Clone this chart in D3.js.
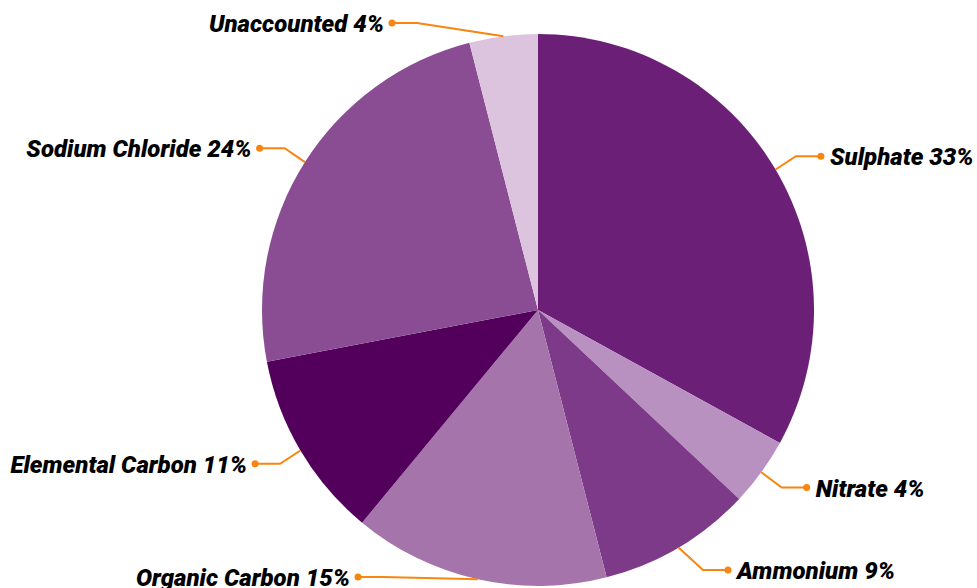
<!DOCTYPE html>
<html>
<head>
<meta charset="utf-8">
<script src="https://cdn.jsdelivr.net/npm/d3@7"></script>
<style>
  html, body { margin: 0; padding: 0; background: #ffffff; }
  svg { display: block; }
  .lbl { font-family: Roboto, "Liberation Sans", sans-serif; font-weight: 900; font-style: italic; font-size: 24px; fill: #000; }
</style>
</head>
<body>
<svg id="chart" width="977" height="588"></svg>
<script>
// PM composition (percent of total mass)
const categories = ["Sulphate", "Nitrate", "Ammonium", "Organic Carbon", "Elemental Carbon", "Sodium Chloride", "Unaccounted"];
const shares = [33, 4, 9, 15, 11, 24, 4];
const sliceColors = ["#6b1f77", "#b991c1", "#7d3a88", "#a574aa", "#53005d", "#8a4d93", "#dcc4de"];

const W = 977, H = 588;
const cx = 538, cy = 310, radius = 276;
const labelRadius = 322;   // dots sit on this circle
const placeRadius = 302;   // radial distance used to place label rows
const yMin = 23, yMax = 577;
const connector = "#f7850f";

const svg = d3.select("#chart");
const g = svg.append("g").attr("transform", `translate(${cx},${cy})`);

const data = categories.map((c, i) => ({ name: c, value: shares[i], color: sliceColors[i] }));

const pie = d3.pie().value(d => d.value).sort(null);
const arcs = pie(data);
const arc = d3.arc().innerRadius(0).outerRadius(radius);

g.selectAll("path.slice")
  .data(arcs)
  .join("path")
  .attr("class", "slice")
  .attr("d", arc)
  .attr("fill", d => d.data.color);

// Labels with crooked connectors
arcs.forEach(a => {
  const mid = (a.startAngle + a.endAngle) / 2;
  const s = Math.sin(mid), c = Math.cos(mid);
  const edge = [radius * s, -radius * c];
  let y = -placeRadius * c;
  y = Math.max(yMin - cy, Math.min(yMax - cy, y));
  const right = s >= 0;
  const dx = Math.sqrt(Math.max(0, labelRadius * labelRadius - y * y));
  const dotX = right ? dx : -dx;
  const elbowX = right ? dotX - 25 : dotX + 25;

  g.append("path")
    .attr("d", d3.line()([[dotX, y], [elbowX, y], edge]))
    .attr("fill", "none")
    .attr("stroke", connector)
    .attr("stroke-width", 2);

  g.append("circle")
    .attr("cx", dotX).attr("cy", y).attr("r", 3.5)
    .attr("fill", connector);

  g.append("text")
    .attr("class", "lbl")
    .attr("x", right ? dotX + 9 : dotX - 8)
    .attr("y", y + 9)
    .attr("text-anchor", right ? "start" : "end")
    .text(`${a.data.name} ${a.data.value}%`);
});
</script>
</body>
</html>
